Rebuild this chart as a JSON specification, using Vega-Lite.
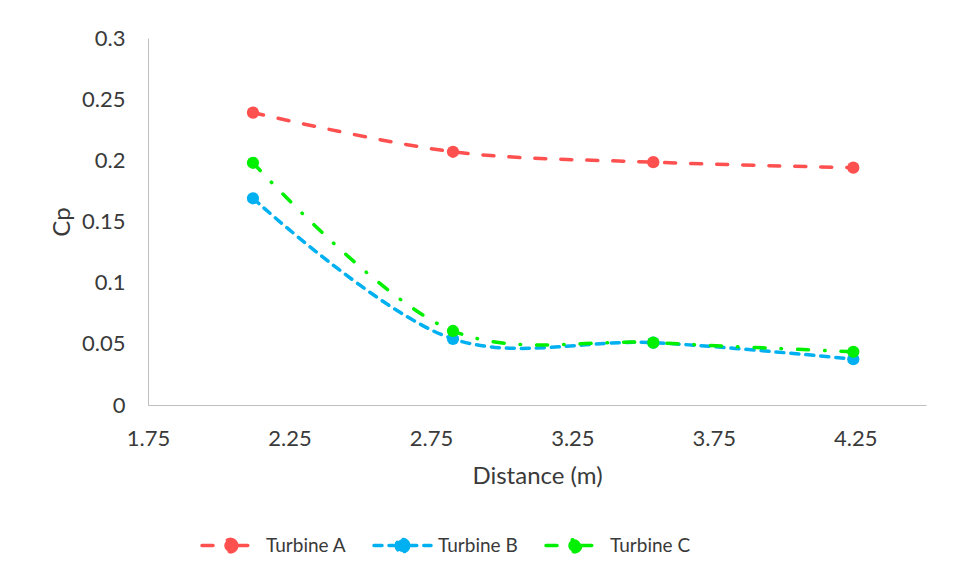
{
  "$schema": "https://vega.github.io/schema/vega-lite/v6.json",
  "width": 778,
  "height": 367,
  "autosize": "none",
  "padding": {"left": 148, "top": 38, "right": 34, "bottom": 177},
  "background": "white",
  "config": {
    "view": {"stroke": null},
    "font": "Lato",
    "axis": {
      "grid": false,
      "ticks": false,
      "tickSize": 0,
      "domainColor": "#BFBFBF",
      "domainWidth": 1,
      "labelFont": "Lato",
      "labelColor": "#3A3A3A",
      "labelFontSize": 22,
      "titleFont": "Lato",
      "titleColor": "#3A3A3A",
      "titleFontSize": 24,
      "titleFontWeight": "normal"
    }
  },
  "data": {
    "values": [
      {"distance": 2.121, "cp": 0.239, "series": "Turbine A"},
      {"distance": 2.828, "cp": 0.207, "series": "Turbine A"},
      {"distance": 3.536, "cp": 0.1985, "series": "Turbine A"},
      {"distance": 4.243, "cp": 0.194, "series": "Turbine A"},
      {"distance": 2.121, "cp": 0.169, "series": "Turbine B"},
      {"distance": 2.828, "cp": 0.054, "series": "Turbine B"},
      {"distance": 3.536, "cp": 0.051, "series": "Turbine B"},
      {"distance": 4.243, "cp": 0.0375, "series": "Turbine B"},
      {"distance": 2.121, "cp": 0.198, "series": "Turbine C"},
      {"distance": 2.828, "cp": 0.0605, "series": "Turbine C"},
      {"distance": 3.536, "cp": 0.051, "series": "Turbine C"},
      {"distance": 4.243, "cp": 0.0435, "series": "Turbine C"}
    ]
  },
  "encoding": {
    "x": {
      "field": "distance",
      "type": "quantitative",
      "title": "Distance (m)",
      "scale": {"domain": [1.75, 4.5], "nice": false, "zero": false},
      "axis": {
        "values": [1.75, 2.25, 2.75, 3.25, 3.75, 4.25],
        "format": ".2f",
        "labelPadding": 23,
        "titlePadding": 15,
        "labelFlush": false
      }
    },
    "y": {
      "field": "cp",
      "type": "quantitative",
      "title": "Cp",
      "scale": {"domain": [0, 0.3], "nice": false},
      "axis": {
        "values": [0, 0.05, 0.1, 0.15, 0.2, 0.25, 0.3],
        "format": "~g",
        "labelPadding": 23,
        "titlePadding": 7,
        "labelFlush": false
      }
    },
    "color": {
      "field": "series",
      "type": "nominal",
      "scale": {
        "domain": ["Turbine A", "Turbine B", "Turbine C"],
        "range": ["#FF5050", "#00B0F0", "#00F000"]
      },
      "legend": {
        "title": null,
        "orient": "none",
        "direction": "horizontal",
        "legendX": 52,
        "legendY": 477,
        "gridAlign": "all",
        "columnPadding": 20,
        "labelFont": "Lato",
        "labelFontSize": 19,
        "labelColor": "#3A3A3A",
        "labelOffset": 5,
        "symbolType": "M-1,0H-0.22M0.22,0H1M0.22,0L0.2033,0.0842L0.1556,0.1556L0.0842,0.2033L0,0.22L-0.0842,0.2033L-0.1556,0.1556L-0.2033,0.0842L-0.22,0L-0.2033,-0.0842L-0.1556,-0.1556L-0.0842,-0.2033L0,-0.22L0.0842,-0.2033L0.1556,-0.1556L0.2033,-0.0842Z",
        "symbolSize": 3249,
        "symbolStrokeWidth": 3.5,
        "encode": {
          "symbols": {
            "update": {
              "fill": {"scale": "color", "field": "value"},
              "stroke": {"scale": "color", "field": "value"},
              "strokeDash": {"scale": "strokeDash", "field": "value"},
              "fillOpacity": {"value": 1},
              "strokeCap": {"value": "round"}
            }
          }
        }
      }
    }
  },
  "layer": [
    {
      "mark": {
        "type": "line",
        "interpolate": "catmull-rom",
        "strokeWidth": 3.5,
        "strokeCap": "round"
      },
      "encoding": {
        "strokeDash": {
          "field": "series",
          "type": "nominal",
          "scale": {
            "domain": ["Turbine A", "Turbine B", "Turbine C"],
            "range": [[11, 15], [8, 7], [11, 16, 0.5, 16]]
          },
          "legend": null
        }
      }
    },
    {
      "mark": {"type": "point", "filled": true, "opacity": 1, "size": 150}
    }
  ]
}
